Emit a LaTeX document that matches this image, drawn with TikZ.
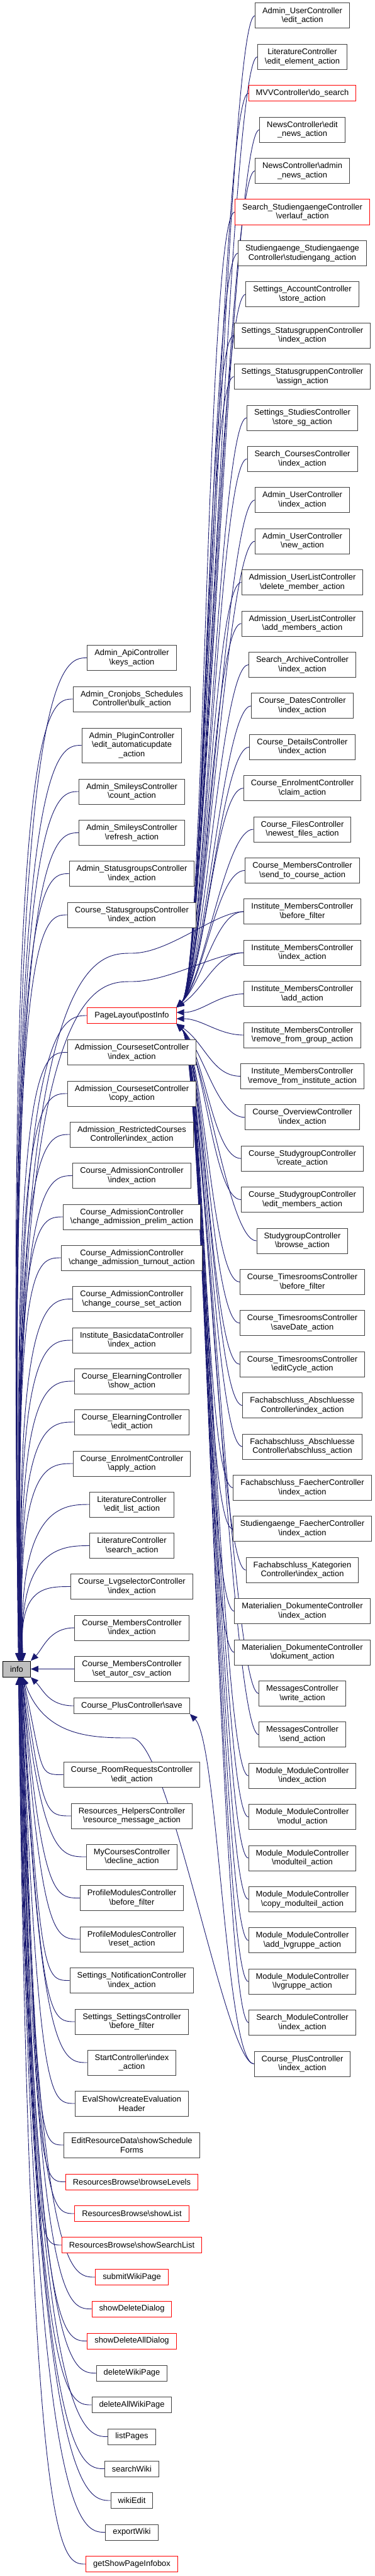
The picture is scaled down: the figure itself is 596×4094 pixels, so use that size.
\documentclass[tikz,border=0pt]{standalone}
\usepackage{fontspec}
\setmainfont{Liberation Sans}
\usetikzlibrary{arrows.meta,backgrounds,calc}
\definecolor{edgeblue}{HTML}{191970}
\definecolor{boxgray}{HTML}{404040}
\definecolor{selfgray}{HTML}{BFBFBF}
\definecolor{truncred}{HTML}{FF0000}
\newcommand{\bsl}{\textbackslash}

\begin{document}
\begin{tikzpicture}[
    x=1pt, y=1pt,
    font=\fontsize{12.9pt}{14.7pt}\selectfont,
    fn/.style={draw=boxgray, fill=white, line width=1pt, align=center,
        inner xsep=11.5pt, inner ysep=1pt, minimum height=40pt},
    fnone/.style={fn, minimum height=25pt},
    trunc/.style={draw=truncred},
    infobox/.style={fnone, draw=black, fill=selfgray},
    call/.style={draw=edgeblue, line width=0.9pt, -{Triangle[length=12pt,width=10pt]}}
]
\useasboundingbox (0,0) rectangle (596,-4094);

% The function itself
\node[infobox] (info) at (26.5,-2652.5) {info};

% Direct callers
\node[fn] (apiKeys) at (209.5,-1045.5) {Admin\_ApiController\\\bsl keys\_action};
\node[fn] (cronBulk) at (209.5,-1111) {Admin\_Cronjobs\_Schedules\\Controller\bsl bulk\_action};
\node[fn, minimum height=55pt] (pluginUpdate) at (209.5,-1184.5) {Admin\_PluginController\\\bsl edit\_automaticupdate\\\_action};
\node[fn] (smileysCount) at (209.5,-1258) {Admin\_SmileysController\\\bsl count\_action};
\node[fn] (smileysRefresh) at (209.5,-1323.5) {Admin\_SmileysController\\\bsl refresh\_action};
\node[fn] (adminStatusgr) at (209.5,-1388.5) {Admin\_StatusgroupsController\\\bsl index\_action};
\node[fn] (courseStatusgr) at (209.5,-1454) {Course\_StatusgroupsController\\\bsl index\_action};
\node[fnone, trunc] (postInfo) at (209.5,-1614) {PageLayout\bsl postInfo};
\node[fn] (coursesetIndex) at (209.5,-1672.5) {Admission\_CoursesetController\\\bsl index\_action};
\node[fn] (coursesetCopy) at (209.5,-1738) {Admission\_CoursesetController\\\bsl copy\_action};
\node[fn] (restrictedIndex) at (209.5,-1803) {Admission\_RestrictedCourses\\Controller\bsl index\_action};
\node[fn] (admIndex) at (209.5,-1868.5) {Course\_AdmissionController\\\bsl index\_action};
\node[fn] (admPrelim) at (209.5,-1934) {Course\_AdmissionController\\\bsl change\_admission\_prelim\_action};
\node[fn] (admTurnout) at (209.5,-1999) {Course\_AdmissionController\\\bsl change\_admission\_turnout\_action};
\node[fn] (admCourseSet) at (209.5,-2064.5) {Course\_AdmissionController\\\bsl change\_course\_set\_action};
\node[fn] (basicdataIndex) at (209.5,-2130) {Institute\_BasicdataController\\\bsl index\_action};
\node[fn] (elearnShow) at (209.5,-2195) {Course\_ElearningController\\\bsl show\_action};
\node[fn] (elearnEdit) at (209.5,-2260) {Course\_ElearningController\\\bsl edit\_action};
\node[fn] (enrolApply) at (209.5,-2326) {Course\_EnrolmentController\\\bsl apply\_action};
\node[fn] (litEditList) at (209.5,-2391) {LiteratureController\\\bsl edit\_list\_action};
\node[fn] (litSearch) at (209.5,-2456.5) {LiteratureController\\\bsl search\_action};
\node[fn] (lvgIndex) at (209.5,-2521.5) {Course\_LvgselectorController\\\bsl index\_action};
\node[fn] (membersIndex) at (209.5,-2587) {Course\_MembersController\\\bsl index\_action};
\node[fn] (membersCsv) at (209.5,-2652.5) {Course\_MembersController\\\bsl set\_autor\_csv\_action};
\node[fnone] (plusSave) at (209.5,-2711) {Course\_PlusController\bsl save};
\node[fn] (roomEdit) at (209.5,-2820.5) {Course\_RoomRequestsController\\\bsl edit\_action};
\node[fn] (helpersMessage) at (209.5,-2886) {Resources\_HelpersController\\\bsl resource\_message\_action};
\node[fn] (mycoursesDecline) at (209.5,-2951) {MyCoursesController\\\bsl decline\_action};
\node[fn] (profileBefore) at (209.5,-3016.5) {ProfileModulesController\\\bsl before\_filter};
\node[fn] (profileReset) at (209.5,-3082) {ProfileModulesController\\\bsl reset\_action};
\node[fn] (notifIndex) at (209.5,-3147.5) {Settings\_NotificationController\\\bsl index\_action};
\node[fn] (settingsBefore) at (209.5,-3213) {Settings\_SettingsController\\\bsl before\_filter};
\node[fn] (startIndex) at (209.5,-3278) {StartController\bsl index\\\_action};
\node[fn] (evalHeader) at (209.5,-3343) {EvalShow\bsl createEvaluation\\Header};
\node[fn] (scheduleForms) at (209.5,-3409) {EditResourceData\bsl showSchedule\\Forms};
\node[fnone, trunc] (browseLevels) at (209.5,-3467.5) {ResourcesBrowse\bsl browseLevels};
\node[fnone, trunc] (browseList) at (209.5,-3518) {ResourcesBrowse\bsl showList};
\node[fnone, trunc] (browseSearchList) at (209.5,-3568) {ResourcesBrowse\bsl showSearchList};
\node[fnone, trunc] (submitWiki) at (209.5,-3619) {submitWikiPage};
\node[fnone, trunc] (deleteDialog) at (209.5,-3669.5) {showDeleteDialog};
\node[fnone, trunc] (deleteAllDialog) at (209.5,-3720.5) {showDeleteAllDialog};
\node[fnone] (deleteWiki) at (209.5,-3771.5) {deleteWikiPage};
\node[fnone] (deleteAllWiki) at (209.5,-3822) {deleteAllWikiPage};
\node[fnone] (listPages) at (209.5,-3872.5) {listPages};
\node[fnone] (searchWiki) at (209.5,-3923.5) {searchWiki};
\node[fnone] (wikiEdit) at (209.5,-3974) {wikiEdit};
\node[fnone] (exportWiki) at (209.5,-4024.5) {exportWiki};
\node[fnone, trunc] (pageInfobox) at (209.5,-4075) {getShowPageInfobox};

% Callers of PageLayout\postInfo and Course_PlusController\save
\node[fn] (userEdit) at (480.5,-25) {Admin\_UserController\\\bsl edit\_action};
\node[fn] (litEditElement) at (480.5,-90.4) {LiteratureController\\\bsl edit\_element\_action};
\node[fnone, trunc] (mvvSearch) at (480.5,-148.3) {MVVController\bsl do\_search};
\node[fn] (newsEdit) at (480.5,-206.2) {NewsController\bsl edit\\\_news\_action};
\node[fn] (newsAdmin) at (480.5,-271.6) {NewsController\bsl admin\\\_news\_action};
\node[fn, trunc] (searchVerlauf) at (480.5,-337) {Search\_StudiengaengeController\\\bsl verlauf\_action};
\node[fn] (studStudiengang) at (480.5,-402.4) {Studiengaenge\_Studiengaenge\\Controller\bsl studiengang\_action};
\node[fn] (accountStore) at (480.5,-467.8) {Settings\_AccountController\\\bsl store\_action};
\node[fn] (statusgrIndex) at (480.5,-533.2) {Settings\_StatusgruppenController\\\bsl index\_action};
\node[fn] (statusgrAssign) at (480.5,-598.6) {Settings\_StatusgruppenController\\\bsl assign\_action};
\node[fn] (studiesStore) at (480.5,-664) {Settings\_StudiesController\\\bsl store\_sg\_action};
\node[fn] (searchCourses) at (480.5,-729.4) {Search\_CoursesController\\\bsl index\_action};
\node[fn] (userIndex) at (480.5,-794.8) {Admin\_UserController\\\bsl index\_action};
\node[fn] (userNew) at (480.5,-860.2) {Admin\_UserController\\\bsl new\_action};
\node[fn] (userlistDelete) at (480.5,-925.6) {Admission\_UserListController\\\bsl delete\_member\_action};
\node[fn] (userlistAdd) at (480.5,-991) {Admission\_UserListController\\\bsl add\_members\_action};
\node[fn] (searchArchive) at (480.5,-1056.4) {Search\_ArchiveController\\\bsl index\_action};
\node[fn] (datesIndex) at (480.5,-1121.8) {Course\_DatesController\\\bsl index\_action};
\node[fn] (detailsIndex) at (480.5,-1187.2) {Course\_DetailsController\\\bsl index\_action};
\node[fn] (enrolClaim) at (480.5,-1252.6) {Course\_EnrolmentController\\\bsl claim\_action};
\node[fn] (filesNewest) at (480.5,-1318) {Course\_FilesController\\\bsl newest\_files\_action};
\node[fn] (membersSend) at (480.5,-1383.4) {Course\_MembersController\\\bsl send\_to\_course\_action};
\node[fn] (instBefore) at (480.5,-1448.8) {Institute\_MembersController\\\bsl before\_filter};
\node[fn] (instIndex) at (480.5,-1514.2) {Institute\_MembersController\\\bsl index\_action};
\node[fn] (instAdd) at (480.5,-1579.6) {Institute\_MembersController\\\bsl add\_action};
\node[fn] (instRemoveGroup) at (480.5,-1645) {Institute\_MembersController\\\bsl remove\_from\_group\_action};
\node[fn] (instRemoveInst) at (480.5,-1710.4) {Institute\_MembersController\\\bsl remove\_from\_institute\_action};
\node[fn] (overviewIndex) at (480.5,-1775.8) {Course\_OverviewController\\\bsl index\_action};
\node[fn] (sgCreate) at (480.5,-1841.2) {Course\_StudygroupController\\\bsl create\_action};
\node[fn] (sgEditMembers) at (480.5,-1906.6) {Course\_StudygroupController\\\bsl edit\_members\_action};
\node[fn] (sgBrowse) at (480.5,-1972) {StudygroupController\\\bsl browse\_action};
\node[fn] (timesBefore) at (480.5,-2037.4) {Course\_TimesroomsController\\\bsl before\_filter};
\node[fn] (timesSaveDate) at (480.5,-2102.8) {Course\_TimesroomsController\\\bsl saveDate\_action};
\node[fn] (timesEditCycle) at (480.5,-2168.2) {Course\_TimesroomsController\\\bsl editCycle\_action};
\node[fn] (abschlIndex) at (480.5,-2233.6) {Fachabschluss\_Abschluesse\\Controller\bsl index\_action};
\node[fn] (abschlAbschluss) at (480.5,-2299) {Fachabschluss\_Abschluesse\\Controller\bsl abschluss\_action};
\node[fn] (faecherIndex) at (480.5,-2364.4) {Fachabschluss\_FaecherController\\\bsl index\_action};
\node[fn] (studFaecherIndex) at (480.5,-2429.8) {Studiengaenge\_FaecherController\\\bsl index\_action};
\node[fn] (kategorienIndex) at (480.5,-2495.2) {Fachabschluss\_Kategorien\\Controller\bsl index\_action};
\node[fn] (dokIndex) at (480.5,-2560.6) {Materialien\_DokumenteController\\\bsl index\_action};
\node[fn] (dokDokument) at (480.5,-2626) {Materialien\_DokumenteController\\\bsl dokument\_action};
\node[fn] (msgWrite) at (480.5,-2691.4) {MessagesController\\\bsl write\_action};
\node[fn] (msgSend) at (480.5,-2756.8) {MessagesController\\\bsl send\_action};
\node[fn] (modIndex) at (480.5,-2822.2) {Module\_ModuleController\\\bsl index\_action};
\node[fn] (modModul) at (480.5,-2887.6) {Module\_ModuleController\\\bsl modul\_action};
\node[fn] (modModulteil) at (480.5,-2953) {Module\_ModuleController\\\bsl modulteil\_action};
\node[fn] (modCopyModulteil) at (480.5,-3018.4) {Module\_ModuleController\\\bsl copy\_modulteil\_action};
\node[fn] (modAddLvgruppe) at (480.5,-3083.8) {Module\_ModuleController\\\bsl add\_lvgruppe\_action};
\node[fn] (modLvgruppe) at (480.5,-3149.2) {Module\_ModuleController\\\bsl lvgruppe\_action};
\node[fn] (searchModule) at (480.5,-3214.6) {Search\_ModuleController\\\bsl index\_action};
\node[fn] (plusIndex) at (480.5,-3280) {Course\_PlusController\\\bsl index\_action};

% Bends of the long calls through the middle rank
\coordinate (viaBefore) at (209.5,-1515);
\coordinate (viaIndex) at (209.5,-1560);
\coordinate (viaPlus) at (209.5,-2762);

\begin{pgfonlayer}{background}
% Calls of info from above
\draw[call] (apiKeys.west) .. controls +(-40,0) and ($(info.north |- apiKeys.west)+(-20,0)$) .. ([xshift=3pt]info.north);
\draw[call] (cronBulk.west) .. controls +(-40,0) and ($(info.north |- cronBulk.west)+(-19,0)$) .. ([xshift=3pt]info.north);
\draw[call] (pluginUpdate.west) .. controls +(-40,0) and ($(info.north |- pluginUpdate.west)+(-18,0)$) .. ([xshift=3pt]info.north);
\draw[call] (smileysCount.west) .. controls +(-40,0) and ($(info.north |- smileysCount.west)+(-17,0)$) .. ([xshift=4pt]info.north);
\draw[call] (smileysRefresh.west) .. controls +(-40,0) and ($(info.north |- smileysRefresh.west)+(-16,0)$) .. ([xshift=4pt]info.north);
\draw[call] (adminStatusgr.west) .. controls +(-40,0) and ($(info.north |- adminStatusgr.west)+(-15,0)$) .. ([xshift=4pt]info.north);
\draw[call] (courseStatusgr.west) .. controls +(-40,0) and ($(info.north |- courseStatusgr.west)+(-14,0)$) .. ([xshift=5pt]info.north);
\draw[call] (instBefore.west) .. controls +(-45,0) and +(60,0) .. (viaBefore)
    .. controls +(-60,0) and ($(info.north |- viaBefore)+(-13,0)$) .. ([xshift=5pt]info.north);
\draw[call] (instIndex.west) .. controls +(-45,0) and +(60,0) .. (viaIndex)
    .. controls +(-60,0) and ($(info.north |- viaIndex)+(-12,0)$) .. ([xshift=5pt]info.north);
\draw[call] (postInfo.west) .. controls +(-40,0) and ($(info.north |- postInfo.west)+(-11,0)$) .. ([xshift=6pt]info.north);
\draw[call] (coursesetIndex.west) .. controls +(-40,0) and ($(info.north |- coursesetIndex.west)+(-10,0)$) .. ([xshift=6pt]info.north);
\draw[call] (coursesetCopy.west) .. controls +(-40,0) and ($(info.north |- coursesetCopy.west)+(-9,0)$) .. ([xshift=6pt]info.north);
\draw[call] (restrictedIndex.west) .. controls +(-40,0) and ($(info.north |- restrictedIndex.west)+(-8,0)$) .. ([xshift=7pt]info.north);
\draw[call] (admIndex.west) .. controls +(-40,0) and ($(info.north |- admIndex.west)+(-7,0)$) .. ([xshift=7pt]info.north);
\draw[call] (admPrelim.west) .. controls +(-40,0) and ($(info.north |- admPrelim.west)+(-6,0)$) .. ([xshift=7pt]info.north);
\draw[call] (admTurnout.west) .. controls +(-40,0) and ($(info.north |- admTurnout.west)+(-5,0)$) .. ([xshift=8pt]info.north);
\draw[call] (admCourseSet.west) .. controls +(-40,0) and ($(info.north |- admCourseSet.west)+(-4,0)$) .. ([xshift=8pt]info.north);
\draw[call] (basicdataIndex.west) .. controls +(-40,0) and ($(info.north |- basicdataIndex.west)+(-3,0)$) .. ([xshift=8pt]info.north);
\draw[call] (elearnShow.west) .. controls +(-40,0) and ($(info.north |- elearnShow.west)+(-2,0)$) .. ([xshift=9pt]info.north);
\draw[call] (elearnEdit.west) .. controls +(-40,0) and ($(info.north |- elearnEdit.west)+(-1,0)$) .. ([xshift=9pt]info.north);
\draw[call] (enrolApply.west) .. controls +(-40,0) and (info.north |- enrolApply.west) .. ([xshift=9pt]info.north);
\draw[call] (litEditList.west) .. controls +(-40,0) and ($(info.north |- litEditList.west)+(1,0)$) .. ([xshift=10pt]info.north);
\draw[call] (litSearch.west) .. controls +(-40,0) and ($(info.north |- litSearch.west)+(2,0)$) .. ([xshift=10pt]info.north);
\draw[call] (lvgIndex.west) .. controls +(-40,0) and ($(info.north |- lvgIndex.west)+(3,0)$) .. ([xshift=10pt]info.north);
\draw[call] (membersIndex.west) .. controls +(-40,0) and +(20,20) .. (info.north east);
\draw[call] (membersCsv.west) -- (info.east);

% Calls of info from below
\draw[call] (plusSave.west) .. controls +(-40,0) and +(20,-20) .. (info.south east);
\draw[call] (plusIndex.west) .. controls +(-45,0) and +(60,0) .. (viaPlus)
    .. controls +(-60,0) and ($(info.south |- viaPlus)+(44,0)$) .. ([xshift=10pt]info.south);
\draw[call] (roomEdit.west) .. controls +(-40,0) and ($(info.south |- roomEdit.west)+(43,0)$) .. ([xshift=10pt]info.south);
\draw[call] (helpersMessage.west) .. controls +(-40,0) and ($(info.south |- helpersMessage.west)+(42,0)$) .. ([xshift=10pt]info.south);
\draw[call] (mycoursesDecline.west) .. controls +(-40,0) and ($(info.south |- mycoursesDecline.west)+(41,0)$) .. ([xshift=9pt]info.south);
\draw[call] (profileBefore.west) .. controls +(-40,0) and ($(info.south |- profileBefore.west)+(40,0)$) .. ([xshift=9pt]info.south);
\draw[call] (profileReset.west) .. controls +(-40,0) and ($(info.south |- profileReset.west)+(39,0)$) .. ([xshift=9pt]info.south);
\draw[call] (notifIndex.west) .. controls +(-40,0) and ($(info.south |- notifIndex.west)+(38,0)$) .. ([xshift=8pt]info.south);
\draw[call] (settingsBefore.west) .. controls +(-40,0) and ($(info.south |- settingsBefore.west)+(37,0)$) .. ([xshift=8pt]info.south);
\draw[call] (startIndex.west) .. controls +(-40,0) and ($(info.south |- startIndex.west)+(36,0)$) .. ([xshift=8pt]info.south);
\draw[call] (evalHeader.west) .. controls +(-40,0) and ($(info.south |- evalHeader.west)+(35,0)$) .. ([xshift=7pt]info.south);
\draw[call] (scheduleForms.west) .. controls +(-40,0) and ($(info.south |- scheduleForms.west)+(34,0)$) .. ([xshift=7pt]info.south);
\draw[call] (browseLevels.west) .. controls +(-40,0) and ($(info.south |- browseLevels.west)+(33,0)$) .. ([xshift=7pt]info.south);
\draw[call] (browseList.west) .. controls +(-40,0) and ($(info.south |- browseList.west)+(32,0)$) .. ([xshift=6pt]info.south);
\draw[call] (browseSearchList.west) .. controls +(-40,0) and ($(info.south |- browseSearchList.west)+(31,0)$) .. ([xshift=6pt]info.south);
\draw[call] (submitWiki.west) .. controls +(-40,0) and ($(info.south |- submitWiki.west)+(30,0)$) .. ([xshift=6pt]info.south);
\draw[call] (deleteDialog.west) .. controls +(-40,0) and ($(info.south |- deleteDialog.west)+(29,0)$) .. ([xshift=5pt]info.south);
\draw[call] (deleteAllDialog.west) .. controls +(-40,0) and ($(info.south |- deleteAllDialog.west)+(28,0)$) .. ([xshift=5pt]info.south);
\draw[call] (deleteWiki.west) .. controls +(-40,0) and ($(info.south |- deleteWiki.west)+(27,0)$) .. ([xshift=5pt]info.south);
\draw[call] (deleteAllWiki.west) .. controls +(-40,0) and ($(info.south |- deleteAllWiki.west)+(26,0)$) .. ([xshift=4pt]info.south);
\draw[call] (listPages.west) .. controls +(-40,0) and ($(info.south |- listPages.west)+(25,0)$) .. ([xshift=4pt]info.south);
\draw[call] (searchWiki.west) .. controls +(-40,0) and ($(info.south |- searchWiki.west)+(24,0)$) .. ([xshift=4pt]info.south);
\draw[call] (wikiEdit.west) .. controls +(-40,0) and ($(info.south |- wikiEdit.west)+(23,0)$) .. ([xshift=3pt]info.south);
\draw[call] (exportWiki.west) .. controls +(-40,0) and ($(info.south |- exportWiki.west)+(22,0)$) .. ([xshift=3pt]info.south);
\draw[call] (pageInfobox.west) .. controls +(-40,0) and ($(info.south |- pageInfobox.west)+(21,0)$) .. ([xshift=3pt]info.south);

% Calls of PageLayout\postInfo
\draw[call] (userEdit.west) .. controls +(-45,0) and +(45,45) .. (postInfo.north east);
\draw[call] (litEditElement.west) .. controls +(-45,0) and +(45,45) .. (postInfo.north east);
\draw[call] (mvvSearch.west) .. controls +(-45,0) and +(45,45) .. (postInfo.north east);
\draw[call] (newsEdit.west) .. controls +(-45,0) and +(45,45) .. (postInfo.north east);
\draw[call] (newsAdmin.west) .. controls +(-45,0) and +(45,45) .. (postInfo.north east);
\draw[call] (searchVerlauf.west) .. controls +(-45,0) and +(45,45) .. (postInfo.north east);
\draw[call] (studStudiengang.west) .. controls +(-45,0) and +(45,45) .. (postInfo.north east);
\draw[call] (accountStore.west) .. controls +(-45,0) and +(45,45) .. (postInfo.north east);
\draw[call] (statusgrIndex.west) .. controls +(-45,0) and +(45,45) .. (postInfo.north east);
\draw[call] (statusgrAssign.west) .. controls +(-45,0) and +(45,45) .. (postInfo.north east);
\draw[call] (studiesStore.west) .. controls +(-45,0) and +(45,45) .. (postInfo.north east);
\draw[call] (searchCourses.west) .. controls +(-45,0) and +(45,45) .. (postInfo.north east);
\draw[call] (userIndex.west) .. controls +(-45,0) and +(45,45) .. (postInfo.north east);
\draw[call] (userNew.west) .. controls +(-45,0) and +(45,45) .. (postInfo.north east);
\draw[call] (userlistDelete.west) .. controls +(-45,0) and +(45,45) .. (postInfo.north east);
\draw[call] (userlistAdd.west) .. controls +(-45,0) and +(45,45) .. (postInfo.north east);
\draw[call] (searchArchive.west) .. controls +(-45,0) and +(45,45) .. (postInfo.north east);
\draw[call] (datesIndex.west) .. controls +(-45,0) and +(45,45) .. (postInfo.north east);
\draw[call] (detailsIndex.west) .. controls +(-45,0) and +(45,45) .. (postInfo.north east);
\draw[call] (enrolClaim.west) .. controls +(-45,0) and +(45,45) .. (postInfo.north east);
\draw[call] (filesNewest.west) .. controls +(-45,0) and +(45,45) .. (postInfo.north east);
\draw[call] (membersSend.west) .. controls +(-45,0) and +(45,45) .. (postInfo.north east);
\draw[call] (instBefore.west) .. controls +(-45,0) and +(45,45) .. (postInfo.north east);
\draw[call] (instIndex.west) .. controls +(-45,0) and +(45,30) .. (postInfo.north east);
\draw[call] (instAdd.west) .. controls +(-40,0) and +(40,0) .. ([yshift=5pt]postInfo.east);
\draw[call] (instRemoveGroup.west) .. controls +(-40,0) and +(40,0) .. ([yshift=-5pt]postInfo.east);
\draw[call] (instRemoveInst.west) .. controls +(-45,0) and +(45,-30) .. (postInfo.south east);
\draw[call] (overviewIndex.west) .. controls +(-45,0) and +(45,-45) .. (postInfo.south east);
\draw[call] (sgCreate.west) .. controls +(-45,0) and +(45,-45) .. (postInfo.south east);
\draw[call] (sgEditMembers.west) .. controls +(-45,0) and +(45,-45) .. (postInfo.south east);
\draw[call] (sgBrowse.west) .. controls +(-45,0) and +(45,-45) .. (postInfo.south east);
\draw[call] (timesBefore.west) .. controls +(-45,0) and +(45,-45) .. (postInfo.south east);
\draw[call] (timesSaveDate.west) .. controls +(-45,0) and +(45,-45) .. (postInfo.south east);
\draw[call] (timesEditCycle.west) .. controls +(-45,0) and +(45,-45) .. (postInfo.south east);
\draw[call] (abschlIndex.west) .. controls +(-45,0) and +(45,-45) .. (postInfo.south east);
\draw[call] (abschlAbschluss.west) .. controls +(-45,0) and +(45,-45) .. (postInfo.south east);
\draw[call] (faecherIndex.west) .. controls +(-45,0) and +(45,-45) .. (postInfo.south east);
\draw[call] (studFaecherIndex.west) .. controls +(-45,0) and +(45,-45) .. (postInfo.south east);
\draw[call] (kategorienIndex.west) .. controls +(-45,0) and +(45,-45) .. (postInfo.south east);
\draw[call] (dokIndex.west) .. controls +(-45,0) and +(45,-45) .. (postInfo.south east);
\draw[call] (dokDokument.west) .. controls +(-45,0) and +(45,-45) .. (postInfo.south east);
\draw[call] (msgWrite.west) .. controls +(-45,0) and +(45,-45) .. (postInfo.south east);
\draw[call] (msgSend.west) .. controls +(-45,0) and +(45,-45) .. (postInfo.south east);
\draw[call] (modIndex.west) .. controls +(-45,0) and +(45,-45) .. (postInfo.south east);
\draw[call] (modModul.west) .. controls +(-45,0) and +(45,-45) .. (postInfo.south east);
\draw[call] (modModulteil.west) .. controls +(-45,0) and +(45,-45) .. (postInfo.south east);
\draw[call] (modCopyModulteil.west) .. controls +(-45,0) and +(45,-45) .. (postInfo.south east);
\draw[call] (modAddLvgruppe.west) .. controls +(-45,0) and +(45,-45) .. (postInfo.south east);
\draw[call] (modLvgruppe.west) .. controls +(-45,0) and +(45,-45) .. (postInfo.south east);
\draw[call] (searchModule.west) .. controls +(-45,0) and +(45,-45) .. (postInfo.south east);

% Call of Course_PlusController\save
\draw[call] (plusIndex.west) .. controls +(-45,0) and +(45,-45) .. (plusSave.south east);
\end{pgfonlayer}

\end{tikzpicture}
\end{document}
